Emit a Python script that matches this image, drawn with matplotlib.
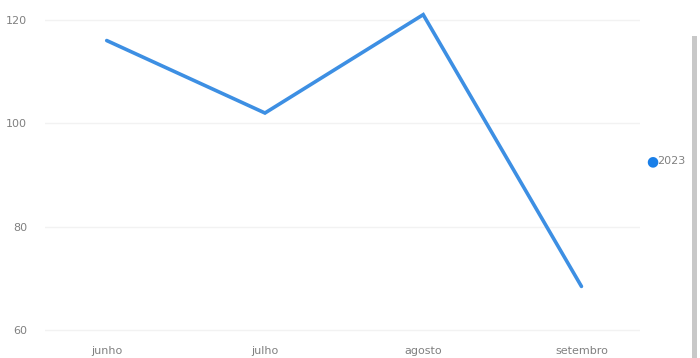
import matplotlib.pyplot as plt
from matplotlib.patches import Rectangle

# data
months = ['junho', 'julho', 'agosto', 'setembro']
values_2023 = [116, 102, 121, 68.5]
y_ticks = [60, 80, 100, 120]

fig = plt.figure(figsize=(7, 3.58), dpi=100)
fig.patch.set_facecolor('white')
ax = fig.add_axes([45 / 700, 25 / 358, 595 / 700, 323 / 358])

x = list(range(len(months)))
ax.plot(x, values_2023, color='#3d8fe3', linewidth=2.6, solid_capstyle='round',
        solid_joinstyle='miter', label='2023')

ax.set_xlim(-0.39, 3.37)
ax.set_ylim(59.5, 121.9)
ax.set_yticks(y_ticks)
ax.set_xticks(x)
ax.set_xticklabels(months)

ax.grid(axis='y', color='#f2f2f2', linewidth=1)
ax.set_axisbelow(True)
for side in ['top', 'right', 'left', 'bottom']:
    ax.spines[side].set_visible(False)
ax.tick_params(axis='both', length=0, labelsize=8, labelcolor='#808080')
ax.tick_params(axis='y', pad=13)
ax.tick_params(axis='x', pad=9)

# legend on the right
fig.text(646 / 700, 1 - 161 / 358, '\u25CF', color='#1a7fe8', fontsize=10,
         va='center', ha='left')
fig.text(657 / 700, 1 - 161 / 358, '2023', color='#808080', fontsize=8,
         va='center', ha='left')

# scrollbar strip at the right edge
fig.patches.append(Rectangle((692 / 700, 0), 5 / 700, 1 - 36 / 358,
                             transform=fig.transFigure, facecolor='#c8c8c8',
                             edgecolor='none'))

fig.savefig('out.png', dpi=100)
